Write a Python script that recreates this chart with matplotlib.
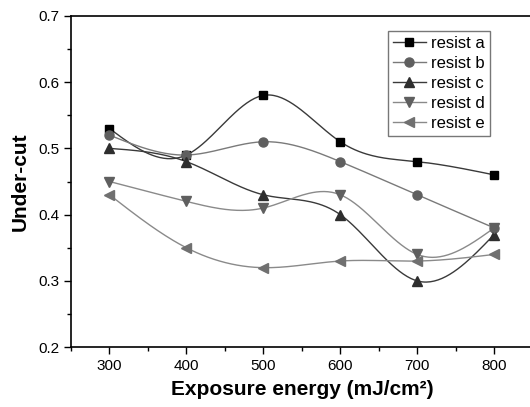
import numpy as np
import matplotlib.pyplot as plt
from matplotlib.ticker import MultipleLocator

plt.rcParams['font.family'] = ['Liberation Sans', 'DejaVu Sans']

# data
energy = [300, 400, 500, 600, 700, 800]
resist_a = [0.53, 0.49, 0.58, 0.51, 0.48, 0.46]
resist_b = [0.52, 0.49, 0.51, 0.48, 0.43, 0.38]
resist_c = [0.50, 0.48, 0.43, 0.40, 0.30, 0.37]
resist_d = [0.45, 0.42, 0.41, 0.43, 0.34, 0.38]
resist_e = [0.43, 0.35, 0.32, 0.33, 0.33, 0.34]
labels = ["resist a", "resist b", "resist c", "resist d", "resist e"]


def natural_spline(x, y, n=200):
    # natural cubic spline through the points, just for a smooth drawn line
    x = np.asarray(x, float)
    y = np.asarray(y, float)
    k = len(x)
    h = np.diff(x)
    A = np.zeros((k, k))
    r = np.zeros(k)
    A[0, 0] = A[-1, -1] = 1
    for i in range(1, k - 1):
        A[i, i - 1] = h[i - 1]
        A[i, i] = 2 * (h[i - 1] + h[i])
        A[i, i + 1] = h[i]
        r[i] = 3 * ((y[i + 1] - y[i]) / h[i] - (y[i] - y[i - 1]) / h[i - 1])
    c = np.linalg.solve(A, r)
    xs = np.linspace(x[0], x[-1], n)
    idx = np.clip(np.searchsorted(x, xs) - 1, 0, k - 2)
    dx = xs - x[idx]
    b = (y[1:] - y[:-1]) / h - h * (2 * c[:-1] + c[1:]) / 3
    d = (c[1:] - c[:-1]) / (3 * h)
    ys = y[idx] + b[idx] * dx + c[idx] * dx ** 2 + d[idx] * dx ** 3
    return xs, ys


series = [resist_a, resist_b, resist_c, resist_d, resist_e]
markers = ["s", "o", "^", "v", "<"]
msizes = [5.5, 6.5, 7, 7, 7]
mcolors = ["#000000", "#5f5f5f", "#2e2e2e", "#5f5f5f", "#707070"]
lcolors = ["#3a3a3a", "#7a7a7a", "#3a3a3a", "#8a8a8a", "#8a8a8a"]

fig = plt.figure(figsize=(5.3, 4.07), dpi=100)
ax = fig.add_axes([0.134, 0.147, 0.871, 0.814])

for vals, m, ms, mc, lc, lab in zip(series, markers, msizes, mcolors, lcolors, labels):
    xs, ys = natural_spline(energy, vals)
    ax.plot(xs, ys, color=lc, lw=1.0, zorder=2)
    ax.plot(energy, vals, ls="none", marker=m, color=mc, ms=ms, zorder=3)
    # legend proxy
    ax.plot([], [], color=lc, lw=1.0, marker=m, mfc=mc, mec=mc, ms=ms, label=lab)

ax.set_xlim(250, 850)
ax.set_ylim(0.2, 0.7)
ax.xaxis.set_major_locator(MultipleLocator(100))
ax.xaxis.set_minor_locator(MultipleLocator(50))
ax.yaxis.set_major_locator(MultipleLocator(0.1))
ax.yaxis.set_minor_locator(MultipleLocator(0.05))
ax.tick_params(which="both", direction="out", top=False, right=False, labelsize=11)
ax.tick_params(which="major", length=5, width=1)
ax.tick_params(which="minor", length=3, width=1)
for s in ax.spines.values():
    s.set_linewidth(1.2)

ax.set_xlabel("Exposure energy (mJ/cm²)", fontsize=15, fontweight="bold", labelpad=5)
ax.set_ylabel("Under-cut", fontsize=15, fontweight="bold", labelpad=6)

leg = ax.legend(loc="upper right", bbox_to_anchor=(0.925, 0.98), fontsize=12,
                frameon=True, fancybox=False, edgecolor="#555555",
                handlelength=2.0, borderpad=0.3, labelspacing=0.3, handletextpad=0.3)
leg.get_frame().set_linewidth(1.0)

fig.savefig("out.png", dpi=100)
